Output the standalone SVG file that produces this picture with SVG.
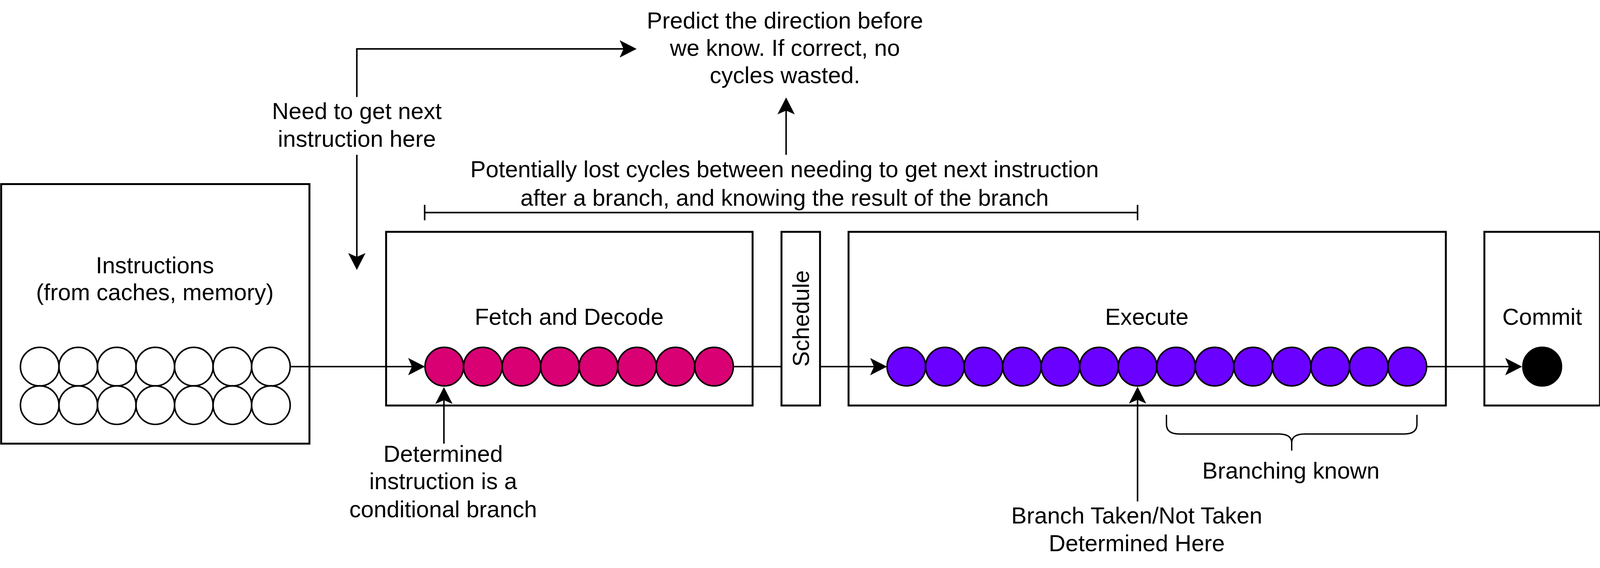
<svg xmlns="http://www.w3.org/2000/svg" width="4155" height="1455" viewBox="0 0 4155 1455">
<style>
  .box { fill: #ffffff; stroke: #000000; stroke-width: 5; }
  .c { stroke: #000000; stroke-width: 4; }
  .w { fill: #ffffff; }
  .p { fill: #d80073; }
  .v { fill: #6a00ff; }
  .k { fill: #000000; }
  .t { font-family: "Liberation Sans", Arial, Helvetica, sans-serif; font-size: 60px; fill: #000000; text-anchor: middle; }
  .ln { fill: none; stroke: #000000; stroke-width: 4; }
  .brace { fill: none; stroke: #000000; stroke-width: 3.5; }
</style>
<defs>
  <marker id="arr" markerUnits="userSpaceOnUse" viewBox="0 0 44 45" markerWidth="44" markerHeight="45" refX="12" refY="22.5" orient="auto">
    <path d="M0,0 L44,22.5 L0,45 L10,22.5 Z" fill="#000000"/>
  </marker>
</defs>
<rect width="4155" height="1455" fill="#ffffff"/>
<g transform="scale(0.9865)">
<g id="instructions">
  <rect class="box" x="3" y="478" width="800" height="674"/>
  <text class="t" x="402" y="710">Instructions</text>
  <text class="t" x="402" y="780">(from caches, memory)</text>
  <g class="c w">
    <circle cx="103" cy="952" r="50"/><circle cx="203" cy="952" r="50"/><circle cx="303" cy="952" r="50"/><circle cx="403" cy="952" r="50"/><circle cx="503" cy="952" r="50"/><circle cx="603" cy="952" r="50"/><circle cx="703" cy="952" r="50"/>
    <circle cx="103" cy="1052" r="50"/><circle cx="203" cy="1052" r="50"/><circle cx="303" cy="1052" r="50"/><circle cx="403" cy="1052" r="50"/><circle cx="503" cy="1052" r="50"/><circle cx="603" cy="1052" r="50"/><circle cx="703" cy="1052" r="50"/>
  </g>
</g>

<g id="fetch-decode">
  <rect class="box" x="1002" y="602" width="951" height="451"/>
  <text class="t" x="1477" y="843">Fetch and Decode</text>
  <g class="c p">
    <circle cx="1153" cy="952" r="50"/><circle cx="1253" cy="952" r="50"/><circle cx="1353" cy="952" r="50"/><circle cx="1453" cy="952" r="50"/><circle cx="1553" cy="952" r="50"/><circle cx="1653" cy="952" r="50"/><circle cx="1753" cy="952" r="50"/><circle cx="1853" cy="952" r="50"/>
  </g>
</g>

<g id="schedule">
  <rect class="box" x="2028" y="602" width="100" height="451"/>
  <text class="t" transform="translate(2099 827) rotate(-90)" x="0" y="0">Schedule</text>
</g>

<g id="execute">
  <rect class="box" x="2202" y="602" width="1550" height="451"/>
  <text class="t" x="2976" y="843">Execute</text>
  <g class="c v">
    <circle cx="2352" cy="952" r="50"/><circle cx="2452" cy="952" r="50"/><circle cx="2552" cy="952" r="50"/><circle cx="2652" cy="952" r="50"/><circle cx="2752" cy="952" r="50"/><circle cx="2852" cy="952" r="50"/><circle cx="2952" cy="952" r="50"/><circle cx="3052" cy="952" r="50"/><circle cx="3152" cy="952" r="50"/><circle cx="3252" cy="952" r="50"/><circle cx="3352" cy="952" r="50"/><circle cx="3452" cy="952" r="50"/><circle cx="3552" cy="952" r="50"/><circle cx="3652" cy="952" r="50"/>
  </g>
</g>

<g id="commit">
  <rect class="box" x="3852" y="602" width="300" height="451"/>
  <text class="t" x="4002" y="843">Commit</text>
  <circle class="c k" cx="4002" cy="952" r="50"/>
</g>

<g id="label-predict">
  <text class="t" x="2037" y="74">Predict the direction before</text>
  <text class="t" x="2037" y="145">we know. If correct, no</text>
  <text class="t" x="2037" y="216">cycles wasted.</text>
</g>

<g id="label-need">
  <text class="t" x="926" y="309">Need to get next</text>
  <text class="t" x="926" y="381">instruction here</text>
</g>

<g id="label-lost">
  <text class="t" x="2036" y="460">Potentially lost cycles between needing to get next instruction</text>
  <text class="t" x="2036" y="534">after a branch, and knowing the result of the branch</text>
</g>

<g id="label-determined">
  <text class="t" x="1150" y="1199">Determined</text>
  <text class="t" x="1150" y="1270">instruction is a</text>
  <text class="t" x="1150" y="1343">conditional branch</text>
</g>

<g id="label-branching-known">
  <text class="t" x="3350" y="1243">Branching known</text>
</g>

<g id="label-branch-taken">
  <text class="t" x="2950" y="1359">Branch Taken/Not Taken</text>
  <text class="t" x="2950" y="1431">Determined Here</text>
</g>

<g id="connectors">
  <path class="ln" d="M753 952 H1071" marker-end="url(#arr)"/>
  <path class="ln" d="M1903 952 H2028"/>
  <path class="ln" d="M2128 952 H2270" marker-end="url(#arr)"/>
  <path class="ln" d="M3702 952 H3918" marker-end="url(#arr)"/>
  <path class="ln" d="M926 252 V127 H1620" marker-end="url(#arr)"/>
  <path class="ln" d="M926 402 V669" marker-end="url(#arr)"/>
  <path class="ln" d="M2040 402 V285" marker-end="url(#arr)"/>
  <path class="ln" d="M1152 1152 V1037" marker-end="url(#arr)"/>
  <path class="ln" d="M2952 1302 V1036" marker-end="url(#arr)"/>
  <path class="ln" d="M1102 552 H2952 M1102 532 V572 M2952 532 V572"/>
  <path class="brace" d="M3027 1077 V1102 Q3027 1127 3060 1127 H3318 Q3352 1127 3352 1150 V1170 M3677 1077 V1102 Q3677 1127 3644 1127 H3386 Q3352 1127 3352 1150"/>
</g>
</g>
</svg>
